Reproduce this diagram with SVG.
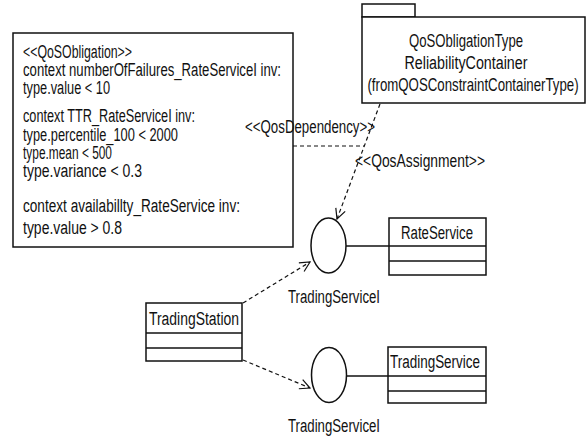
<svg xmlns="http://www.w3.org/2000/svg" width="586" height="439" viewBox="0 0 586 439">
<defs>
<style>
text{font-family:"Liberation Sans",Arial,sans-serif;font-size:18px;fill:#111;}
.box{fill:#fff;stroke:#111;stroke-width:1.5;}
.ln{stroke:#111;stroke-width:1.3;fill:none;}
.dash{stroke:#111;stroke-width:1.2;fill:none;stroke-dasharray:4 3;}
.mid{text-anchor:middle;}
</style>
<marker id="open" viewBox="0 0 12 12" refX="11" refY="6" markerWidth="12" markerHeight="12" markerUnits="userSpaceOnUse" orient="auto">
<path d="M1,1 L11,6 L1,11" fill="none" stroke="#111" stroke-width="1.2"/>
</marker>
</defs>
<rect width="586" height="439" fill="#fff"/>

<g id="note">
<rect class="box" x="13" y="33" width="280" height="214"/>
<text x="23" y="58" textLength="109" lengthAdjust="spacingAndGlyphs">&lt;&lt;QoSObligation&gt;&gt;</text>
<text x="23" y="76" textLength="258" lengthAdjust="spacingAndGlyphs">context numberOfFailures_RateServiceI inv:</text>
<text x="23" y="94" textLength="87" lengthAdjust="spacingAndGlyphs">type.value &lt; 10</text>
<text x="23" y="122" textLength="172" lengthAdjust="spacingAndGlyphs">context TTR_RateServiceI inv:</text>
<text x="23" y="141" textLength="155" lengthAdjust="spacingAndGlyphs">type.percentile_100 &lt; 2000</text>
<text x="23" y="159" textLength="89" lengthAdjust="spacingAndGlyphs">type.mean &lt; 500</text>
<text x="23" y="177" textLength="119" lengthAdjust="spacingAndGlyphs">type.variance &lt; 0.3</text>
<text x="23" y="212" textLength="217" lengthAdjust="spacingAndGlyphs">context availabillty_RateService inv:</text>
<text x="23" y="234" textLength="99" lengthAdjust="spacingAndGlyphs">type.value &gt; 0.8</text>
</g>

<g id="package">
<rect class="box" x="362" y="4" width="53" height="13"/>
<rect class="box" x="362" y="17" width="223" height="86"/>
<text class="mid" x="466" y="47" textLength="114" lengthAdjust="spacingAndGlyphs">QoSObligationType</text>
<text class="mid" x="466" y="69" textLength="123" lengthAdjust="spacingAndGlyphs">ReliabilityContainer</text>
<text class="mid" transform="translate(473,91) scale(0.8,1)" x="0" y="0" textLength="264" lengthAdjust="spacingAndGlyphs">(fromQOSConstraintContainerType)</text>
</g>

<g id="connectors">
<line class="dash" x1="293" y1="146" x2="364" y2="146"/>
<line class="dash" x1="380" y1="104" x2="337" y2="219" marker-end="url(#open)"/>
<line class="dash" x1="243" y1="303" x2="310" y2="262" marker-end="url(#open)"/>
<line class="dash" x1="243" y1="360" x2="310" y2="388" marker-end="url(#open)"/>
<line class="ln" x1="346" y1="246" x2="389" y2="246"/>
<line class="ln" x1="347" y1="376" x2="388" y2="376"/>
<text x="245" y="133" textLength="130" lengthAdjust="spacingAndGlyphs">&lt;&lt;QosDependency&gt;&gt;</text>
<text x="355" y="167" textLength="130" lengthAdjust="spacingAndGlyphs">&lt;&lt;QosAssignment&gt;&gt;</text>
</g>

<g id="iface1">
<ellipse class="box" cx="328.5" cy="245.5" rx="17.5" ry="27.5"/>
<text class="mid" x="334" y="303" textLength="92" lengthAdjust="spacingAndGlyphs">TradingServiceI</text>
</g>

<g id="RateService">
<rect class="box" x="389" y="218" width="97" height="57"/>
<line class="ln" x1="389" y1="246" x2="486" y2="246"/>
<line class="ln" x1="389" y1="261" x2="486" y2="261"/>
<text class="mid" x="437" y="239" textLength="72" lengthAdjust="spacingAndGlyphs">RateService</text>
</g>

<g id="TradingStation">
<rect class="box" x="146" y="303" width="96" height="58"/>
<line class="ln" x1="146" y1="333" x2="242" y2="333"/>
<line class="ln" x1="146" y1="348" x2="242" y2="348"/>
<text class="mid" x="194" y="325" textLength="90" lengthAdjust="spacingAndGlyphs">TradingStation</text>
</g>

<g id="iface2">
<ellipse class="box" cx="329" cy="375" rx="17.5" ry="27.5"/>
<text class="mid" x="334" y="432" textLength="92" lengthAdjust="spacingAndGlyphs">TradingServiceI</text>
</g>

<g id="TradingService">
<rect class="box" x="388" y="347" width="98" height="56"/>
<line class="ln" x1="388" y1="376" x2="486" y2="376"/>
<line class="ln" x1="388" y1="391" x2="486" y2="391"/>
<text class="mid" x="435" y="368" textLength="90" lengthAdjust="spacingAndGlyphs">TradingService</text>
</g>
</svg>
